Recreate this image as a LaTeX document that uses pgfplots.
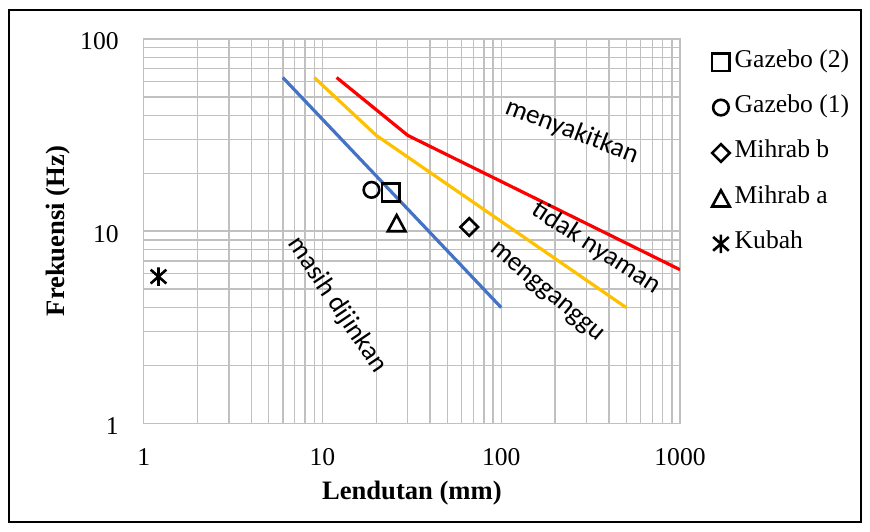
\documentclass[border=0pt]{standalone}
\usepackage{fontspec}
\setmainfont{Liberation Serif}
\newfontfamily\notefont{Carlito}
\usepackage{pgfplots}
\pgfplotsset{compat=1.18}

\definecolor{gridgray}{HTML}{C0C0C0}
\definecolor{lineblue}{HTML}{4472C4}
\definecolor{linegold}{HTML}{FFC000}
\definecolor{linered}{HTML}{FF0000}

% marks: square diamond, box-centred triangle, six-armed star
\pgfdeclareplotmark{sqdiamond}{%
  \pgfpathmoveto{\pgfqpoint{0pt}{\pgfplotmarksize}}%
  \pgfpathlineto{\pgfqpoint{\pgfplotmarksize}{0pt}}%
  \pgfpathlineto{\pgfqpoint{0pt}{-\pgfplotmarksize}}%
  \pgfpathlineto{\pgfqpoint{-\pgfplotmarksize}{0pt}}%
  \pgfpathclose\pgfusepathqstroke}
\pgfdeclareplotmark{boxtriangle}{%
  \pgfpathmoveto{\pgfqpoint{0pt}{0.92\pgfplotmarksize}}%
  \pgfpathlineto{\pgfqpoint{\pgfplotmarksize}{-0.92\pgfplotmarksize}}%
  \pgfpathlineto{\pgfqpoint{-\pgfplotmarksize}{-0.92\pgfplotmarksize}}%
  \pgfpathclose\pgfusepathqstroke}
\pgfdeclareplotmark{xstar}{%
  \pgfpathmoveto{\pgfqpoint{0pt}{\pgfplotmarksize}}%
  \pgfpathlineto{\pgfqpoint{0pt}{-\pgfplotmarksize}}%
  \pgfpathmoveto{\pgfqpoint{-0.85\pgfplotmarksize}{0.75\pgfplotmarksize}}%
  \pgfpathlineto{\pgfqpoint{0.85\pgfplotmarksize}{-0.75\pgfplotmarksize}}%
  \pgfpathmoveto{\pgfqpoint{-0.85\pgfplotmarksize}{-0.75\pgfplotmarksize}}%
  \pgfpathlineto{\pgfqpoint{0.85\pgfplotmarksize}{0.75\pgfplotmarksize}}%
  \pgfusepathqstroke}

\pgfplotsset{
  point/.style={only marks, mark options={black, line width=1.3bp, solid},
    legend image code/.code={\draw[mark repeat=2,mark phase=2,##1]
      plot coordinates {(0bp,0bp)(5bp,0bp)(10bp,0bp)};}},
  limit/.style={line width=1.6bp, forget plot},
}

\begin{document}
\begin{tikzpicture}
\begin{scope}[x=0.5bp,y=0.5bp]
  \useasboundingbox (0,0) rectangle (870,532);
  \draw[black, line width=0.8bp] (9,10) rectangle (861,522);
\end{scope}

\begin{axis}[
  at={(71.85bp,54.35bp)}, anchor=south west,
  scale only axis, width=268.15bp, height=192.15bp,
  xmode=log, ymode=log,
  xmin=1, xmax=1000, ymin=1, ymax=100,
  xtick={1,10,100,1000}, xticklabels={1,10,100,1000},
  ytick={1,10,100}, yticklabels={1,10,100},
  minor xtick={2,3,4,5,6,7,8,9,20,30,40,50,60,70,80,90,200,300,400,500,600,700,800,900},
  minor ytick={2,3,4,5,6,7,8,9,20,30,40,50,60,70,80,90},
  grid=both,
  major grid style={gridgray, line width=0.7bp},
  minor grid style={gridgray, line width=0.7bp},
  axis line style={gridgray, line width=0.7bp},
  major tick length=0pt, minor tick length=0pt,
  ticklabel style={font=\fontsize{12.8bp}{15bp}\selectfont, inner sep=0pt},
  xticklabel style={anchor=north, yshift=-12.35bp},
  yticklabel style={anchor=east, xshift=-12.35bp, yshift=-1.3bp},
  xlabel={Lendutan (mm)}, ylabel={Frekuensi (Hz)},
  label style={font=\bfseries\fontsize{13.3bp}{16bp}\selectfont},
  xlabel style={at={(axis description cs:0.5,-0.1814)}, anchor=center},
  ylabel style={at={(axis description cs:-0.1598,0.5)}, anchor=center},
  legend style={at={(1,1)}, anchor=north west, xshift=15.85bp, yshift=-6.4bp,
    draw=none, fill=none, inner sep=0pt, row sep=12.75bp,
    font=\fontsize{12.8bp}{15bp}\selectfont,
    nodes={inner ysep=0pt, inner xsep=2.5bp, text height=0.75em, text depth=0.25em}},
  legend cell align=left,
]
% comfort limits
\addplot[limit, lineblue] coordinates {(6,63) (100,4)};
\addplot[limit, linegold] coordinates {(9,63) (20,31.5) (500,4)};
\addplot[limit, linered] coordinates {(12,63) (30,31.5) (1000,6.3)};

% measured structures
\addplot[point, mark=square, mark size=4.4bp] coordinates {(24.1,15.9)};
\addlegendentry{Gazebo (2)}
\addplot[point, mark=o, mark size=3.9bp] coordinates {(18.8,16.4)};
\addlegendentry{Gazebo (1)}
\addplot[point, mark=sqdiamond, mark size=4.4bp] coordinates {(66.2,10.5)};
\addlegendentry{Mihrab b}
\addplot[point, mark=boxtriangle, mark size=4.4bp] coordinates {(26,11)};
\addlegendentry{Mihrab a}
\addplot[point, mark=xstar, mark size=4.6bp] coordinates {(1.21,5.8)};
\addlegendentry{Kubah}
\end{axis}

\begin{scope}[x=0.5bp,y=0.5bp, every node/.style={font=\notefont\fontsize{13.5bp}{16bp}\selectfont, inner sep=0pt}]
  \node[rotate=-21] at (571.8,400.6) {menyakitkan};
  \node[rotate=-33] at (596,284) {tidak nyaman};
  \node[rotate=-40] at (546,239) {mengganggu};
  \node[rotate=-56] at (337,227) {masih dijinkan};
\end{scope}
\end{tikzpicture}
\end{document}
